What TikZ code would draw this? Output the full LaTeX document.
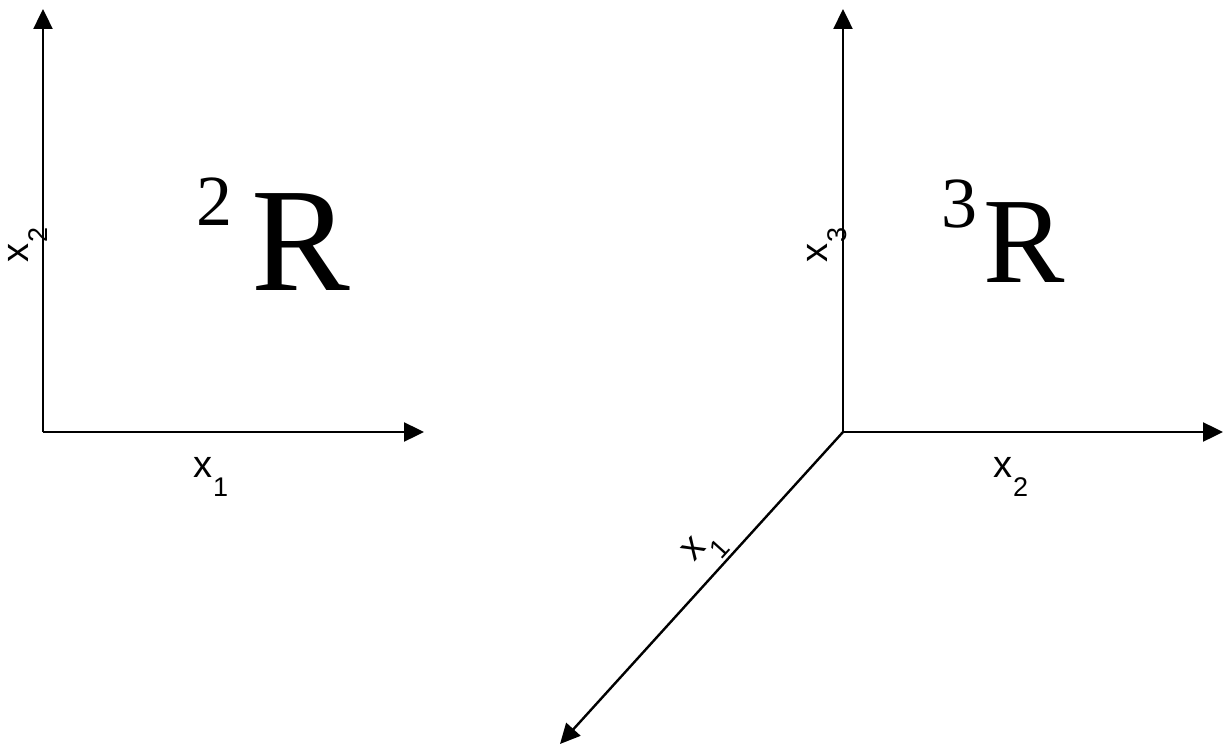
\documentclass[tikz,border=0pt]{standalone}
\usepackage{fontspec}
\setmainfont{Liberation Serif}
\newfontfamily\axfont{Liberation Sans}
\usetikzlibrary{arrows.meta}
\newcommand{\axlab}[1]{{\axfont\fontsize{38}{38}\selectfont x\kern1pt\raisebox{-19pt}{\fontsize{27}{27}\selectfont #1}}}
\tikzset{
  axis/.style={line width=2.4pt, -{Triangle[length=20pt,width=19pt]}},
  axlabel/.style={inner sep=0pt, anchor=base west},
  bigR/.style={inner sep=0pt, anchor=base west, font=\fontsize{#1}{#1}\selectfont},
}
\begin{document}
\begin{tikzpicture}[x=1pt,y=-1pt]
\useasboundingbox (0,0) rectangle (1225,746);
% left system
\coordinate (o2) at (43,432);
\coordinate (y2) at (43,9);
\coordinate (x2e) at (424,432);
\draw[axis] (o2) -- (y2);
\draw[axis] (o2) -- (x2e);
\node[axlabel] (l2x1) at (193,477) {\axlab{1}};
\node[axlabel, rotate=90] (l2x2) at (28,263) {\axlab{2}};
\node[bigR=72] (sup2) at (196,225) {2};
\node[bigR=148] (R2) at (251,290) {R};
% right system
\coordinate (o3) at (843,432);
\coordinate (z3) at (843,9);
\coordinate (x3e) at (1223,432);
\coordinate (d3) at (560,744);
\draw[axis] (o3) -- (z3);
\draw[axis] (o3) -- (x3e);
\draw[axis] (o3) -- (d3);
\node[axlabel] (l3x2) at (993,477) {\axlab{2}};
\node[axlabel, rotate=90] (l3x3) at (827,263) {\axlab{3}};
\node[axlabel, rotate=47.8] (l3x1) at (694,563) {\axlab{1}};
\node[bigR=72] (sup3) at (941,227) {3};
\node[bigR=122] (R3) at (983,282) {R};
\end{tikzpicture}
\end{document}
